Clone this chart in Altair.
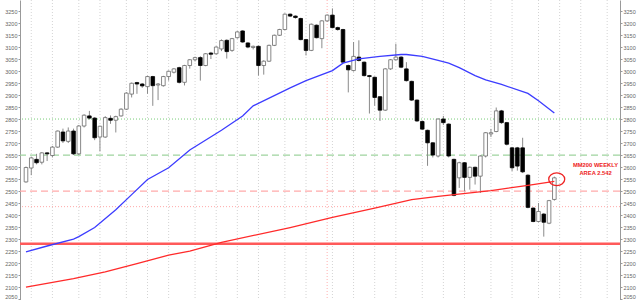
import altair as alt
import pandas as pd

# ---------------- data ----------------
weeks = list(range(1, 102))
opens = [2538, 2596, 2632, 2620, 2659, 2648, 2683, 2746, 2707, 2750,
         2655, 2771, 2813, 2804, 2725, 2725, 2803, 2795, 2813, 2841,
         2904, 2952, 2946, 2935, 2977, 2942, 2939, 2977, 2995, 3014,
         2953, 3023, 3047, 3056, 3023, 3075, 3072, 3092, 3128, 3086,
         3139, 3167, 3117, 3098, 3103, 3023, 3041, 3107, 3149, 3173,
         3237, 3229, 3219, 3131, 3086, 3191, 3135, 3209, 3233, 3181,
         3173, 3023, 3002, 3058, 3037, 2981, 2974, 2893, 2837, 3009,
         3047, 3058, 3009, 2957, 2879, 2790, 2753, 2701, 2646, 2800,
         2779, 2632, 2555, 2618, 2557, 2599, 2562, 2646, 2738, 2748,
         2834, 2785, 2680, 2680, 2680, 2566, 2429, 2373, 2404, 2366, 2465]
highs = [2602, 2642, 2655, 2662, 2662, 2688, 2752, 2760, 2765, 2760,
         2775, 2820, 2834, 2808, 2772, 2812, 2815, 2814, 2845, 2912,
         2952, 2955, 2950, 2980, 2980, 2950, 2980, 3002, 3012, 3018,
         3026, 3050, 3060, 3062, 3075, 3080, 3103, 3132, 3132, 3138,
         3166, 3170, 3120, 3106, 3106, 3045, 3110, 3152, 3176, 3240,
         3240, 3232, 3222, 3134, 3198, 3194, 3212, 3236, 3261, 3185,
         3176, 3027, 3121, 3128, 3040, 2984, 2977, 2896, 3012, 3050,
         3114, 3062, 3037, 2960, 2882, 2793, 2756, 2704, 2803, 2813,
         2782, 2635, 2622, 2621, 2602, 2602, 2649, 2746, 2759, 2848,
         2838, 2788, 2684, 2684, 2722, 2570, 2432, 2450, 2408, 2463, 2560]
lows = [2535, 2566, 2611, 2611, 2625, 2640, 2680, 2700, 2700, 2650,
        2650, 2765, 2798, 2712, 2665, 2722, 2780, 2744, 2810, 2838,
        2890, 2905, 2930, 2905, 2855, 2879, 2935, 2960, 2990, 2948,
        2940, 3010, 3040, 2960, 3020, 3050, 3068, 3083, 3052, 3080,
        3135, 3118, 3095, 3090, 2981, 2985, 3038, 3104, 3146, 3170,
        3225, 3218, 3128, 3065, 3083, 3136, 3095, 3205, 3178, 3168,
        3033, 2911, 2998, 3040, 2977, 2823, 2855, 2792, 2834, 3005,
        3044, 3012, 2956, 2875, 2788, 2754, 2605, 2640, 2640, 2775,
        2640, 2478, 2513, 2499, 2506, 2527, 2492, 2640, 2725, 2745,
        2780, 2690, 2583, 2585, 2575, 2428, 2370, 2370, 2310, 2362, 2460]
closes = [2598, 2638, 2618, 2659, 2655, 2683, 2750, 2709, 2750, 2655,
          2771, 2816, 2804, 2722, 2770, 2806, 2795, 2810, 2841, 2908,
          2949, 2946, 2938, 2977, 2939, 2946, 2977, 2999, 3009, 2953,
          3023, 3047, 3056, 3023, 3072, 3070, 3100, 3127, 3081, 3135,
          3163, 3121, 3100, 3103, 3023, 3041, 3107, 3149, 3173, 3237,
          3229, 3223, 3131, 3086, 3195, 3139, 3209, 3233, 3181, 3173,
          3037, 3005, 3061, 3044, 2981, 2977, 2890, 2837, 3009, 3047,
          3058, 3016, 2960, 2879, 2792, 2758, 2701, 2650, 2800, 2785,
          2646, 2482, 2618, 2557, 2599, 2562, 2646, 2743, 2743, 2834,
          2785, 2695, 2597, 2604, 2580, 2432, 2373, 2415, 2370, 2460, 2555]

# blue moving average
blue_weeks = [1, 5, 10, 11, 14, 18, 21, 24, 28, 32, 38, 42, 44, 51, 54, 59, 61, 64,
              68, 72, 73, 76, 79, 81, 83, 86, 88, 91, 96, 98, 101]
blue_vals = [2247, 2271, 2300, 2310, 2348, 2422, 2485, 2548, 2597, 2671, 2753, 2813,
             2855, 2930, 2960, 3002, 3033, 3051, 3061, 3069, 3069, 3061, 3044, 3033,
             3014, 2981, 2963, 2944, 2907, 2876, 2825]

# red 200-week moving average
red_weeks = [1, 10, 16, 22, 28, 32, 38, 51, 59, 67, 74, 79, 89, 96, 101]
red_vals = [2100, 2135, 2163, 2198, 2233, 2250, 2286, 2348, 2390, 2429, 2464, 2478,
            2502, 2524, 2540]

# month separators (weeks) and year separator
grid_weeks = [2, 6, 11, 15, 20, 24, 28, 33, 37, 41, 45, 50, 54, 59, 63, 67, 71, 76,
              80, 84, 89, 93, 98, 102, 106, 111]
year_week = [58]

# horizontal levels
level_green_dotted = [2800]
level_green_dashed = [2650]
level_red_dashed = [2500]
level_red_dotted = [2435]
level_red_solid = [2280]

y_ticks = list(range(2050, 3300, 50))

note_lines = ["MM200 WEEKLY", "AREA 2.542"]
note_week = [108.8, 108.8]
note_vals = [2610, 2577]
circle_week = [101.45]
circle_val = [2549]

# ---------------- chart ----------------
df = pd.DataFrame({"week": weeks, "open": opens, "high": highs,
                   "low": lows, "close": closes})
df["dir"] = ["up" if c >= o else "down" for o, c in zip(opens, closes)]

xs = alt.Scale(domain=[0.814, 112.48], nice=False, zero=False)
ys = alt.Scale(domain=[2046, 3296], nice=False, zero=False)


def X(field):
    return alt.X(field, type="quantitative", scale=xs, axis=None)


def Y(field, axis=None):
    if axis is None:
        return alt.Y(field, type="quantitative", scale=ys, axis=None)
    return alt.Y(field, type="quantitative", scale=ys, axis=axis, title="")


def axis_for(orient):
    return alt.Axis(orient=orient, values=y_ticks, format="d", labelFontSize=5.5,
                    labelColor="#666666", labelFont="Liberation Sans",
                    labelBaseline={"condition": {"test": "datum.value <= 2050", "value": "bottom"},
                                   "value": "middle"},
                    tickColor="#999999", tickSize=2, domainColor="#999999",
                    labelPadding=1, grid=False, title="")


grid = alt.Chart(pd.DataFrame({"w": grid_weeks})).mark_rule(
    color="#d4d4d4", strokeDash=[1, 2], strokeWidth=1).encode(x=X("w"))
year = alt.Chart(pd.DataFrame({"w": year_week})).mark_rule(
    color="#ffb0b0", strokeDash=[1, 2], strokeWidth=1).encode(x=X("w"))


def hline(vals, color, dash, width):
    m = dict(color=color, strokeWidth=width)
    if dash:
        m["strokeDash"] = dash
    return alt.Chart(pd.DataFrame({"v": vals})).mark_rule(**m).encode(y=Y("v"))


lv1 = hline(level_green_dotted, "#77cc77", [1, 2], 1)
lv2 = hline(level_green_dashed, "#9fd49f", [7, 4], 1.2)
lv3 = hline(level_red_dashed, "#ffaaaa", [7, 4], 1.3)
lv4 = hline(level_red_dotted, "#ffaaaa", [1, 2], 1)
lv5 = hline(level_red_solid, "#ff5a5a", None, 2.5)

wicks = alt.Chart(df).mark_rule(color="#8a8a8a", strokeWidth=1).encode(
    x=X("week"), y=Y("low", axis_for("left")), y2="high")

bodies = alt.Chart(df).mark_bar(width=3.6, strokeWidth=0.8).encode(
    x=X("week"), y=Y("open"), y2="close",
    fill=alt.Fill("dir:N", scale=alt.Scale(domain=["up", "down"], range=["#ffffff", "#000000"]), legend=None),
    stroke=alt.Stroke("dir:N", scale=alt.Scale(domain=["up", "down"], range=["#6a6a6a", "#000000"]), legend=None))

blue = alt.Chart(pd.DataFrame({"w": blue_weeks, "v": blue_vals})).mark_line(
    color="#3c3cff", strokeWidth=1.3).encode(x=X("w"), y=Y("v", axis_for("right")))
red = alt.Chart(pd.DataFrame({"w": red_weeks, "v": red_vals})).mark_line(
    color="#ff2a2a", strokeWidth=1.3).encode(x=X("w"), y=Y("v"))

notes = alt.Chart(pd.DataFrame({"w": note_week, "v": note_vals, "t": note_lines})).mark_text(
    color="#ee2222", fontWeight="bold", fontSize=5.8, font="Liberation Sans",
    align="center", baseline="middle").encode(x=X("w"), y=Y("v"), text="t:N")

ellipse = "M -1 0 A 1 0.8 0 1 1 1 0 A 1 0.8 0 1 1 -1 0 Z"
circ = alt.Chart(pd.DataFrame({"w": circle_week, "v": circle_val})).mark_point(
    shape=ellipse, size=256, filled=False, color="#ee2222", strokeWidth=1.3,
    opacity=1).encode(x=X("w"), y=Y("v"))

chart = alt.layer(grid, year, lv1, lv2, lv3, lv4, lv5, wicks, bodies, blue, red,
                  notes, circ).resolve_axis(y="independent").properties(
    width=600, height=300,
    padding={"left": 20, "right": 20, "top": 0, "bottom": 0},
    autosize=alt.AutoSizeParams(type="none"),
    background="#ffffff",
).configure_view(strokeWidth=0)

chart.save("out.html", embed_options={"renderer": "svg", "actions": False})
